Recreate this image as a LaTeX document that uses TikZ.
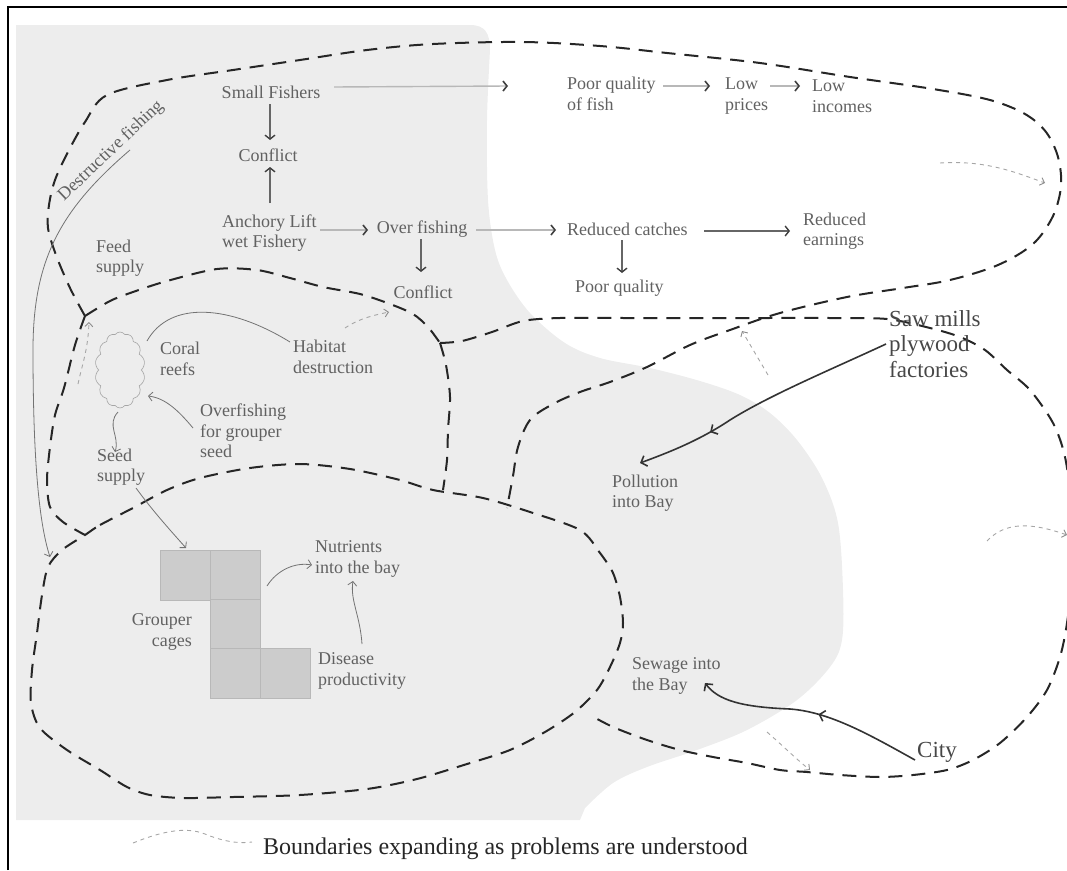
\documentclass[tikz,border=0pt]{standalone}
\usepackage{fontspec}
\setmainfont{Liberation Serif}
\usetikzlibrary{arrows.meta,shapes.symbols,decorations.markings}

\begin{document}
\begin{tikzpicture}[x=1pt,y=-1pt,
  lbl/.style={font=\fontsize{18}{20.5}\selectfont, text=black!62, inner sep=0pt, align=left},
  big/.style={font=\fontsize{23}{25.5}\selectfont, text=black!72, inner sep=0pt, align=left},
  legend/.style={font=\fontsize{24}{26}\selectfont, text=black!85, inner sep=0pt},
  bound/.style={line width=2pt, draw=black!85, dash pattern=on 14pt off 9pt},
  expand/.style={line width=0.9pt, draw=black!35, dash pattern=on 4pt off 4pt,
    -{Straight Barb[length=4pt,width=8pt,color=black!45]}},
  chainlt/.style={line width=1.4pt, draw=black!28,
    -{Straight Barb[length=4pt,width=10pt,line width=1.6pt,color=black!75]}},
  chaindk/.style={line width=1.1pt, draw=black!60,
    -{Straight Barb[length=4pt,width=10pt,line width=1.4pt,color=black!75]}},
  thin/.style={line width=0.8pt, draw=black!55,
    -{Straight Barb[length=4pt,width=9pt,color=black!55]}},
  heavy/.style={line width=1.6pt, draw=black!80,
    -{Straight Barb[length=5pt,width=11pt,line width=1.6pt]}},
  midhead/.style={postaction={decorate}, decoration={markings,
    mark=at position #1 with {\arrow{Straight Barb[length=5pt,width=11pt,line width=1.6pt]}}}},
  cage/.style={minimum size=50pt, inner sep=0pt, fill=black!20, draw=black!28, line width=0.8pt},
  reef/.style={cloud, cloud puffs=14, cloud puff arc=110, aspect=0.62,
    draw=black!35, line width=0.6pt, minimum width=50pt, minimum height=76pt, inner sep=0pt}
]
\useasboundingbox (0,0) rectangle (1067,870);

% bay area
\fill[black!7] (16,25) -- (470,25) .. controls (485,25) and (490,33) .. (490,50)
  -- plot[smooth, tension=0.55] coordinates {(490,50) (487,120) (488,200) (495,250) (507,280)
     (530,313) (565,343) (600,358) (650,368) (700,381) (740,395) (770,413) (797,440)
     (822,478) (838,523) (843,590) (842,640) (830,667) (797,700) (747,730) (697,750)
     (647,767) (613,783) (585,808)}
  -- (580,820) -- (16,820) -- cycle;

% frame
\draw[line width=2.4pt] (8,870) -- (8,7) -- (1067,7);

% boundaries
\draw[bound] plot[smooth, tension=0.55] coordinates {(85,316) (70,288) (56,255) (48,228) (49,205)
  (55,180) (68,152) (85,122) (107,95) (167,80) (233,70) (300,60) (367,50) (433,44) (523,42)
  (600,46) (667,53) (760,63) (850,77) (933,89) (990,100) (1025,114) (1046,132) (1058,157)
  (1061,186) (1053,216) (1033,244) (998,265) (950,280) (903,288) (847,297) (780,313)
  (730,330) (690,345) (647,367) (610,382) (580,392) (553,404) (530,420) (518,447) (513,476) (507,508)};
\draw[bound] plot[smooth, tension=0.5] coordinates {(85,316) (110,301) (133,292) (167,281)
  (217,269) (257,270) (290,278) (323,287) (360,294) (390,304) (413,314) (428,327) (440,343)};
\draw[bound] plot[smooth, tension=0.5] coordinates {(440,343) (446,365) (450,397) (448,430)
  (447,460) (443,490)};
\draw[bound] plot[smooth, tension=0.5] coordinates {(85,316) (75,345) (64,388) (55,415)
  (50,447) (47,480) (50,507) (63,522) (85,535)};
\draw[bound] plot[smooth cycle, tension=0.5] coordinates {(85,535) (100,525) (133,508)
  (167,490) (200,478) (250,468) (300,464) (350,469) (400,480) (433,490) (483,498) (530,512)
  (580,530) (600,553) (613,573) (620,597) (623,623) (620,643) (610,667) (597,690) (575,712)
  (545,732) (510,750) (467,764) (417,779) (367,789) (300,795) (233,797) (183,798) (150,795)
  (127,787) (100,770) (67,750) (40,728) (31,703) (32,670) (37,633) (42,595) (48,567) (62,550)};
\draw[bound] plot[smooth, tension=0.5] coordinates {(440,343) (462,341) (492,332) (523,321)
  (560,318) (627,318) (710,318) (763,318) (830,318) (887,319) (930,328) (960,337) (985,350)
  (1007,370) (1030,390) (1053,423) (1065,457) (1072,510) (1073,570) (1067,623) (1060,657)
  (1047,690) (1027,717) (1000,743) (973,760) (947,770) (913,775) (880,777) (840,775)
  (807,772) (780,770) (747,763) (713,757) (680,750) (647,740) (613,727) (590,715)};

% labels
\node[lbl] (sf) at (271,92) {Small Fishers};
\node[lbl] (c1) at (268,155) {Conflict};
\node[lbl, anchor=west] (al) at (222,233) {Anchory Lift\\wet Fishery};
\node[lbl] (of) at (422,229) {Over fishing};
\node[lbl] (c2) at (423,292) {Conflict};
\node[lbl, anchor=west] (pqf) at (567,94) {Poor quality\\of fish};
\node[lbl, anchor=west] (lp) at (725,96) {Low\\prices};
\node[lbl, anchor=west] (li) at (812,96) {Low\\incomes};
\node[lbl, anchor=west] (rc) at (567,229) {Reduced catches};
\node[lbl, anchor=west] (re) at (803,231) {Reduced\\earnings};
\node[lbl, anchor=west] (pq) at (575,288) {Poor quality};
\node[lbl, anchor=west] (fs) at (96,258) {Feed\\supply};
\node[lbl, rotate=43.5] (df) at (111,151) {Destructive fishing};
\node[lbl, anchor=west] (cr) at (160,359) {Coral\\reefs};
\node[lbl, anchor=west] (hd) at (293,357) {Habitat\\destruction};
\node[lbl, anchor=west] (og) at (200,431) {Overfishing\\for grouper\\seed};
\node[lbl, anchor=west] (ss) at (97,467) {Seed\\supply};
\node[lbl, anchor=west] (nb) at (315,559) {Nutrients\\into the bay};
\node[lbl, anchor=east, align=right] (gc) at (192,632) {Grouper\\cages};
\node[lbl, anchor=west] (dp) at (318,671) {Disease\\productivity};
\node[lbl, anchor=west] (pb) at (612,493) {Pollution\\into Bay};
\node[lbl, anchor=west] (sb) at (632,676) {Sewage into\\the Bay};
\node[big, anchor=west] (sm) at (889,344) {Saw mills\\plywood\\factories};
\node[big, anchor=west] (city) at (917,752) {City};
\node[legend, anchor=west] (lg) at (263,849) {Boundaries expanding as problems are understood};

% coral reef and cages
\node[reef] (coral) at (120,370) {};
\node[cage] (cg1) at (185,575) {};
\node[cage] (cg2) at (235,575) {};
\node[cage] (cg3) at (235,624) {};
\node[cage] (cg4) at (235,673) {};
\node[cage] (cg5) at (285,673) {};

% arrow end points
\coordinate (sf-e) at (334,87);   \coordinate (pqf-w) at (508,86);
\coordinate (pqf-e) at (663,86);  \coordinate (lp-w) at (710,86);
\coordinate (lp-e) at (770,86);   \coordinate (li-w) at (800,86);
\coordinate (sf-s) at (270,104);  \coordinate (c1-n) at (270,140);
\coordinate (al-n) at (270,203);  \coordinate (c1-s) at (270,167);
\coordinate (al-e) at (320,230);  \coordinate (of-w) at (368,230);
\coordinate (of-e) at (476,230);  \coordinate (rc-w) at (556,230);
\coordinate (rc-e) at (704,231);  \coordinate (re-w) at (790,231);
\coordinate (of-s) at (421,239);  \coordinate (c2-n) at (421,272);
\coordinate (rc-s) at (622,240);  \coordinate (pq-n) at (622,273);

% upper chain
\draw[chainlt] (sf-e) -- (pqf-w);
\draw[chainlt] (pqf-e) -- (lp-w);
\draw[chainlt] (lp-e) -- (li-w);
\draw[chaindk] (sf-s) -- (c1-n);
\draw[chaindk] (al-n) -- (c1-s);
\draw[chainlt] (al-e) -- (of-w);
\draw[chainlt] (of-e) -- (rc-w);
\draw[chaindk] (rc-e) -- (re-w);
\draw[chaindk] (of-s) -- (c2-n);
\draw[chaindk] (rc-s) -- (pq-n);

% reef and cage links
\coordinate (coral-n) at (147,341);  \coordinate (hd-w) at (290,342);
\coordinate (coral-s) at (118,412);  \coordinate (ss-n) at (115,452);
\coordinate (og-w) at (193,428);     \coordinate (coral-e) at (148,396);
\coordinate (ss-s) at (136,488);     \coordinate (cg1-n) at (186,548);
\coordinate (cg2-e) at (267,586);    \coordinate (nb-w) at (312,565);
\coordinate (dp-n) at (362,644);     \coordinate (nb-s) at (353,581);
\coordinate (df-s) at (130,150);     \coordinate (cage-loop) at (50,557);
\draw[line width=0.8pt, draw=black!55] (coral-n) .. controls (170,300) and (230,305) .. (hd-w);
\draw[thin] (coral-s) .. controls (106,425) and (120,436) .. (ss-n);
\draw[thin] (og-w) .. controls (178,410) and (165,398) .. (coral-e);
\draw[thin] (ss-s) .. controls (152,510) and (170,530) .. (cg1-n);
\draw[thin] (cg2-e) .. controls (277,570) and (295,562) .. (nb-w);
\draw[thin] (dp-n) .. controls (360,615) and (350,600) .. (nb-s);
\draw[thin] (df-s) .. controls (60,210) and (33,260) .. (33,350)
  .. controls (33,450) and (38,520) .. (cage-loop);

% pollution sources
\coordinate (sm-w) at (886,344);   \coordinate (pb-n) at (640,463);
\coordinate (city-w) at (915,760); \coordinate (sb-e) at (705,683);
\draw[heavy, midhead=0.72] (sm-w) .. controls (830,370) and (770,395) .. (730,420)
  .. controls (700,440) and (670,452) .. (pb-n);
\draw[heavy, midhead=0.47] (city-w) .. controls (870,735) and (830,712) .. (790,709)
  .. controls (740,707) and (718,700) .. (sb-e);

% expanding boundaries
\coordinate (e1a) at (940,163);  \coordinate (e1b) at (1045,183);
\coordinate (e2a) at (768,375);  \coordinate (e2b) at (742,331);
\coordinate (e3a) at (345,328);  \coordinate (e3b) at (389,312);
\coordinate (e4a) at (78,384);   \coordinate (e4b) at (89,322);
\coordinate (e5a) at (987,541);  \coordinate (e5b) at (1067,535);
\coordinate (e6a) at (767,732);  \coordinate (e6b) at (810,770);
\coordinate (lg-a) at (133,843); \coordinate (lg-b) at (252,842);
\draw[expand] (e1a) .. controls (985,160) and (1015,172) .. (e1b);
\draw[expand] (e2a) -- (e2b);
\draw[expand] (e3a) .. controls (360,318) and (375,315) .. (e3b);
\draw[expand] (e4a) .. controls (82,365) and (88,350) .. (e4b);
\draw[expand] (e5a) .. controls (1005,522) and (1030,522) .. (e5b);
\draw[expand] (e6a) .. controls (782,745) and (795,758) .. (e6b);
\draw[line width=0.9pt, draw=black!35, dash pattern=on 4pt off 4pt]
  (lg-a) .. controls (160,832) and (185,826) .. (205,834) .. controls (222,841) and (238,844) .. (lg-b);
\end{tikzpicture}
\end{document}
